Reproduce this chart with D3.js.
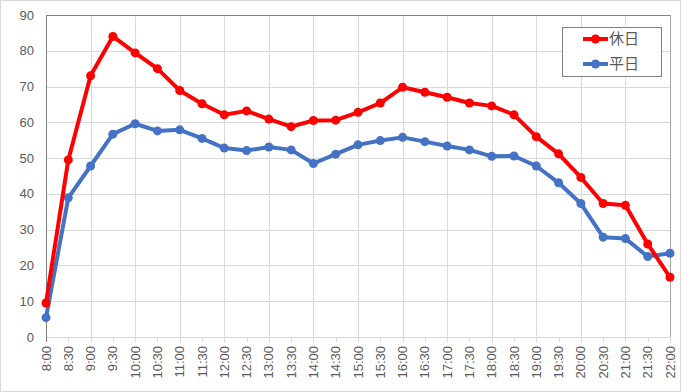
<!DOCTYPE html>
<html><head><meta charset="utf-8">
<script src="https://cdn.jsdelivr.net/npm/d3@7"></script>
<style>body{margin:0;background:#fff;}svg{display:block;}</style>
</head><body>
<script>
const categories = ["8:00","8:30","9:00","9:30","10:00","10:30","11:00","11:30","12:00","12:30","13:00","13:30","14:00","14:30","15:00","15:30","16:00","16:30","17:00","17:30","18:00","18:30","19:00","19:30","20:00","20:30","21:00","21:30","22:00"];
const holiday = [9.5,49.5,73.0,84.0,79.4,75.0,68.9,65.2,62.1,63.2,60.9,58.8,60.5,60.6,62.8,65.4,69.8,68.4,67.0,65.4,64.6,62.1,56.0,51.2,44.6,37.3,36.8,26.0,16.7];
const weekday = [5.4,38.9,47.8,56.7,59.6,57.6,57.9,55.5,52.8,52.1,53.1,52.3,48.5,51.1,53.7,54.9,55.8,54.6,53.4,52.3,50.5,50.6,47.8,43.1,37.3,27.9,27.5,22.5,23.4];
const yTicks = [0,10,20,30,40,50,60,70,80,90];
const seriesNames = ["休日","平日"];

const W = 681, H = 392;
const m = {left:46, right:11, top:15, bottom:55};
const svg = d3.select("body").append("svg").attr("width",W).attr("height",H);
svg.append("rect").attr("x",0.5).attr("y",0.5).attr("width",W-1).attr("height",H-1).attr("fill","#fff").attr("stroke","#d9d9d9");

const x = d3.scalePoint().domain(categories).range([m.left, W-m.right]);
const y = d3.scaleLinear().domain([0,90]).range([H-m.bottom, m.top]);
const font = "'Liberation Sans', Arial, sans-serif";

// horizontal grid
svg.append("g").selectAll("line").data(yTicks).join("line")
  .attr("x1",m.left).attr("x2",W-m.right)
  .attr("y1",d=>Math.round(y(d))+0.5).attr("y2",d=>Math.round(y(d))+0.5)
  .attr("stroke","#d9d9d9").attr("stroke-width",1);
// vertical grid at hours
svg.append("g").selectAll("line").data(categories.filter((c,i)=>i%2===0)).join("line")
  .attr("x1",d=>Math.round(x(d))+0.5).attr("x2",d=>Math.round(x(d))+0.5)
  .attr("y1",m.top).attr("y2",H-m.bottom+5)
  .attr("stroke","#d9d9d9").attr("stroke-width",1);
// minor ticks at half hours
svg.append("g").selectAll("line").data(categories.filter((c,i)=>i%2===1)).join("line")
  .attr("x1",d=>Math.round(x(d))+0.5).attr("x2",d=>Math.round(x(d))+0.5)
  .attr("y1",H-m.bottom).attr("y2",H-m.bottom+5)
  .attr("stroke","#d9d9d9").attr("stroke-width",1);

// plot border
const pr = W-m.right, pt = m.top, pb = H-m.bottom;
svg.append("line").attr("x1",m.left).attr("x2",pr+0.5).attr("y1",pt+0.5).attr("y2",pt+0.5).attr("stroke","#808080");
svg.append("line").attr("x1",pr+0.5).attr("x2",pr+0.5).attr("y1",pt).attr("y2",pb).attr("stroke","#a6a6a6");
svg.append("line").attr("x1",m.left+0.5).attr("x2",m.left+0.5).attr("y1",pt).attr("y2",pb+5).attr("stroke","#808080");

// y axis labels
svg.append("g").selectAll("text").data(yTicks).join("text")
  .attr("x",34).attr("y",d=>y(d)).attr("dy","0.35em").attr("text-anchor","end")
  .attr("font-family",font).attr("font-size",13).attr("fill","#595959").text(d=>d);

// x axis labels
svg.append("g").selectAll("text").data(categories).join("text")
  .attr("transform",d=>`translate(${x(d)},${pb+9}) rotate(-90)`)
  .attr("dy","0.35em").attr("text-anchor","end")
  .attr("font-family",font).attr("font-size",13).attr("fill","#595959").text(d=>d);

const line = d3.line().x((d,i)=>x(categories[i])).y(d=>y(d));
function drawSeries(vals,color){
  svg.append("path").datum(vals).attr("d",line).attr("fill","none")
    .attr("stroke",color).attr("stroke-width",4).attr("stroke-linejoin","round");
  svg.append("g").selectAll("circle").data(vals).join("circle")
    .attr("cx",(d,i)=>x(categories[i])).attr("cy",d=>y(d)).attr("r",4.5).attr("fill",color);
}
drawSeries(weekday,"#4472C4");
drawSeries(holiday,"#FF0000");

// legend
const lg = svg.append("g");
lg.append("rect").attr("x",562.5).attr("y",27.5).attr("width",99).attr("height",49).attr("fill","#fff").attr("stroke","#808080");
const colors = ["#FF0000","#4472C4"];
seriesNames.forEach((n,i)=>{
  const cy = 39 + i*25;
  lg.append("line").attr("x1",583).attr("x2",608).attr("y1",cy).attr("y2",cy).attr("stroke",colors[i]).attr("stroke-width",4);
  lg.append("circle").attr("cx",595.5).attr("cy",cy).attr("r",4.5).attr("fill",colors[i]);
  lg.append("text").attr("x",609).attr("y",cy).attr("dy","0.35em")
    .attr("font-family","'Noto Sans CJK JP', sans-serif").attr("font-size",15).attr("fill","#595959").text(n);
});
</script>
</body></html>
